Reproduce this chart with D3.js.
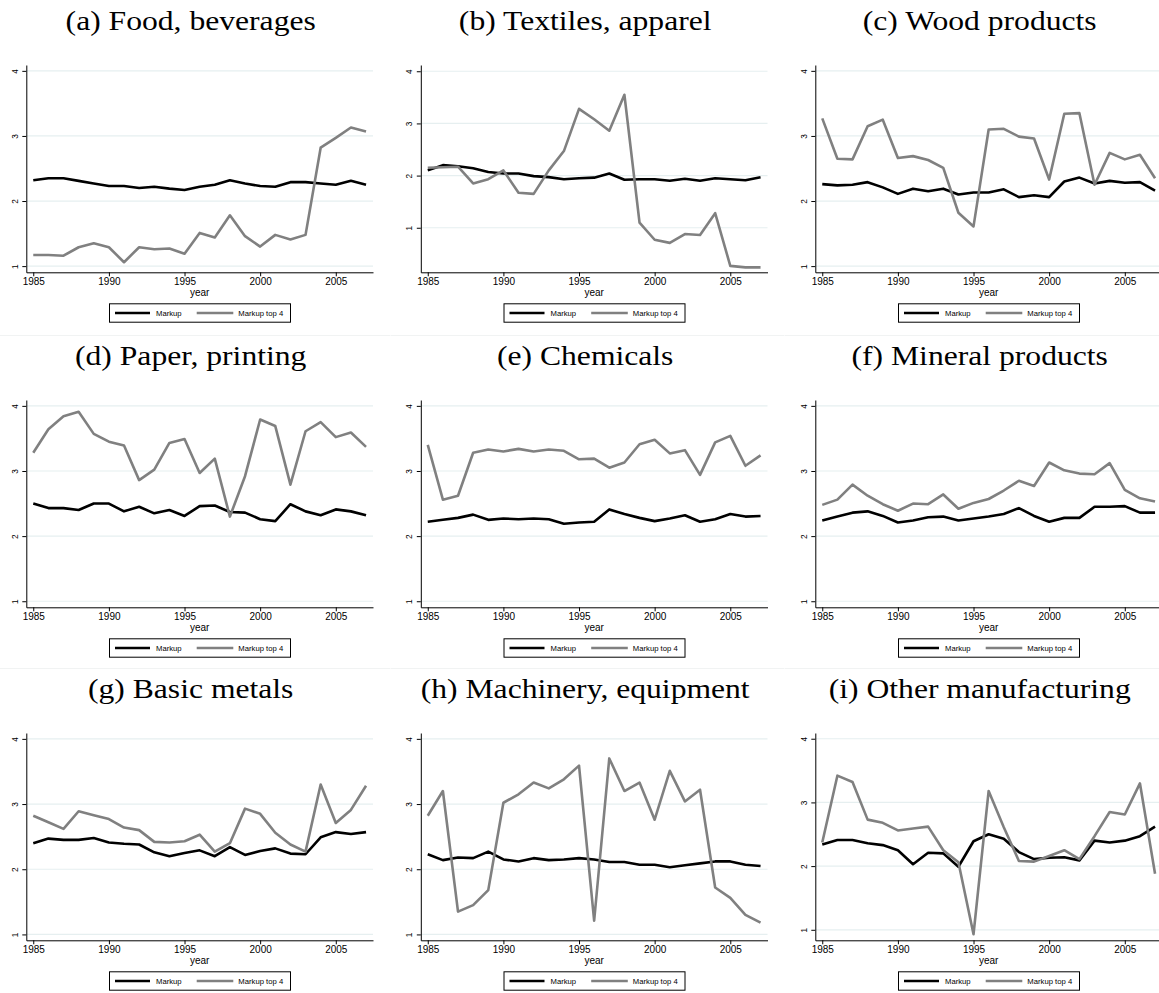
<!DOCTYPE html>
<html>
<head>
<meta charset="utf-8">
<script src="https://cdn.jsdelivr.net/npm/d3@7"></script>
<style>
  body { margin: 0; background: #fff; }
  svg { display: block; }
</style>
</head>
<body>
<svg id="chart" width="1159" height="993"></svg>
<script>
// ---- data -------------------------------------------------------------
const years = [1985, 1986, 1987, 1988, 1989, 1990, 1991, 1992, 1993, 1994, 1995, 1996,
               1997, 1998, 1999, 2000, 2001, 2002, 2003, 2004, 2005, 2006, 2007];

const xTicks = [1985, 1990, 1995, 2000, 2005];
const yTicks = [1, 2, 3, 4];
const seriesNames = ["Markup", "Markup top 4"];

const markupFood = [2.32, 2.35, 2.35, 2.31, 2.27, 2.23, 2.23, 2.20, 2.22, 2.19, 2.17, 2.22,
                    2.25, 2.32, 2.27, 2.23, 2.22, 2.29, 2.29, 2.27, 2.25, 2.31, 2.25];
const top4Food   = [1.17, 1.17, 1.16, 1.29, 1.35, 1.29, 1.06, 1.29, 1.26, 1.27, 1.19, 1.51,
                    1.44, 1.78, 1.46, 1.30, 1.48, 1.41, 1.48, 2.82, 2.97, 3.13, 3.07];

const markupTextiles = [2.10, 2.20, 2.18, 2.14, 2.07, 2.04, 2.04, 1.99, 1.97, 1.93, 1.95, 1.96,
                        2.04, 1.92, 1.93, 1.93, 1.90, 1.94, 1.90, 1.95, 1.93, 1.91, 1.97];
const top4Textiles   = [2.15, 2.16, 2.17, 1.85, 1.93, 2.10, 1.67, 1.65, 2.10, 2.47, 3.28, 3.08,
                        2.86, 3.55, 1.10, 0.77, 0.71, 0.88, 0.86, 1.28, 0.27, 0.24, 0.24];

const markupWood = [2.26, 2.24, 2.25, 2.29, 2.21, 2.11, 2.19, 2.15, 2.19, 2.10, 2.13, 2.13,
                    2.18, 2.06, 2.09, 2.06, 2.30, 2.36, 2.27, 2.31, 2.28, 2.29, 2.16];
const top4Wood   = [3.27, 2.65, 2.64, 3.15, 3.25, 2.66, 2.69, 2.63, 2.51, 1.82, 1.61, 3.10,
                    3.11, 2.99, 2.96, 2.33, 3.34, 3.35, 2.25, 2.74, 2.64, 2.71, 2.35];

const markupPaper = [2.50, 2.43, 2.43, 2.40, 2.50, 2.50, 2.38, 2.45, 2.35, 2.40, 2.31, 2.46,
                     2.47, 2.37, 2.36, 2.26, 2.23, 2.49, 2.38, 2.32, 2.41, 2.38, 2.32];
const top4Paper   = [3.28, 3.64, 3.84, 3.91, 3.57, 3.45, 3.39, 2.86, 3.02, 3.43, 3.49, 2.97,
                     3.19, 2.30, 2.92, 3.79, 3.69, 2.79, 3.61, 3.75, 3.52, 3.59, 3.37];

const markupChemicals = [2.22, 2.25, 2.28, 2.33, 2.25, 2.27, 2.26, 2.27, 2.26, 2.19, 2.21, 2.22,
                         2.41, 2.34, 2.28, 2.23, 2.27, 2.32, 2.22, 2.26, 2.34, 2.30, 2.31];
const top4Chemicals   = [3.40, 2.56, 2.62, 3.28, 3.33, 3.30, 3.34, 3.30, 3.33, 3.31, 3.18, 3.19,
                         3.05, 3.13, 3.41, 3.48, 3.27, 3.32, 2.94, 3.44, 3.54, 3.08, 3.24];

const markupMineral = [2.24, 2.30, 2.36, 2.38, 2.31, 2.21, 2.24, 2.29, 2.30, 2.24, 2.27, 2.30,
                       2.34, 2.43, 2.31, 2.22, 2.28, 2.28, 2.45, 2.45, 2.46, 2.36, 2.36];
const top4Mineral   = [2.48, 2.56, 2.79, 2.62, 2.49, 2.39, 2.50, 2.49, 2.64, 2.42, 2.51, 2.57,
                       2.70, 2.85, 2.77, 3.13, 3.01, 2.96, 2.95, 3.12, 2.71, 2.58, 2.53];

const markupMetals = [2.40, 2.47, 2.45, 2.45, 2.48, 2.41, 2.39, 2.38, 2.26, 2.20, 2.25, 2.29,
                      2.20, 2.34, 2.22, 2.28, 2.32, 2.24, 2.23, 2.49, 2.57, 2.54, 2.57];
const top4Metals   = [2.82, 2.72, 2.62, 2.89, 2.83, 2.77, 2.64, 2.60, 2.42, 2.41, 2.43, 2.53,
                      2.27, 2.40, 2.93, 2.85, 2.56, 2.38, 2.27, 3.30, 2.71, 2.91, 3.28];

const markupMachinery = [2.23, 2.14, 2.18, 2.17, 2.27, 2.15, 2.12, 2.17, 2.14, 2.15, 2.17, 2.15,
                         2.11, 2.11, 2.07, 2.07, 2.03, 2.06, 2.09, 2.12, 2.12, 2.07, 2.05];
const top4Machinery   = [2.82, 3.20, 1.35, 1.45, 1.68, 3.02, 3.15, 3.33, 3.24, 3.38, 3.59, 1.21,
                         3.70, 3.20, 3.33, 2.76, 3.51, 3.04, 3.22, 1.72, 1.56, 1.30, 1.18];

const markupOther = [2.34, 2.41, 2.41, 2.36, 2.33, 2.25, 2.03, 2.21, 2.20, 1.99, 2.39, 2.50,
                     2.43, 2.22, 2.11, 2.13, 2.14, 2.09, 2.40, 2.37, 2.40, 2.47, 2.62];
const top4Other   = [2.37, 3.42, 3.32, 2.73, 2.68, 2.56, 2.59, 2.62, 2.25, 2.06, 0.93, 3.18,
                     2.61, 2.08, 2.07, 2.16, 2.25, 2.11, 2.47, 2.85, 2.81, 3.30, 1.88];

const panelTitles = ["(a) Food, beverages", "(b) Textiles, apparel", "(c) Wood products",
                     "(d) Paper, printing", "(e) Chemicals", "(f) Mineral products",
                     "(g) Basic metals", "(h) Machinery, equipment", "(i) Other manufacturing"];

// y-axis extent of each panel
const yLow  = [0.905, 0.146, 0.905, 0.907, 0.907, 0.907, 0.91, 0.91, 0.835];
const yHigh = [4.09, 4.12, 4.09, 4.09, 4.09, 4.09, 4.09, 4.09, 4.09];

const panels = [
  [markupFood, top4Food], [markupTextiles, top4Textiles], [markupWood, top4Wood],
  [markupPaper, top4Paper], [markupChemicals, top4Chemicals], [markupMineral, top4Mineral],
  [markupMetals, top4Metals], [markupMachinery, top4Machinery], [markupOther, top4Other]
].map((s, i) => ({ title: panelTitles[i], markup: s[0], top4: s[1], yLow: yLow[i], yHigh: yHigh[i] }));

// ---- layout -----------------------------------------------------------
const colX = [0, 394.5, 789];
const rowY = [0, 335, 668];
const plot = { left: 26.3, right: 373, top: 65, bottom: 272.3 };
const colors = { markup: "#000000", top4: "#808080", grid: "#e6eff0", axis: "#000000" };
const lineW = 2.6;
const sansFont = "'Liberation Sans', Arial, Helvetica, sans-serif";
const serifFont = "'Liberation Serif', 'Times New Roman', serif";

const svg = d3.select("#chart");

// faint edges of the stacked graph regions
[1, 2].forEach(r => {
  colX.forEach(cx => {
    svg.append("line")
      .attr("x1", cx - 4).attr("x2", cx + 390)
      .attr("y1", rowY[r] + 0.5).attr("y2", rowY[r] + 0.5)
      .attr("stroke", "#f1f3f3").attr("stroke-width", 1);
  });
});

panels.forEach((p, i) => {
  const g = svg.append("g")
    .attr("transform", `translate(${colX[i % 3]},${rowY[Math.floor(i / 3)]})`);

  const x = d3.scaleLinear().domain([1984.54, 2007.46]).range([plot.left, plot.right]);
  const y = d3.scaleLinear().domain([p.yLow, p.yHigh]).range([plot.bottom, plot.top]);

  // title
  g.append("text")
    .attr("transform", "translate(190.7,29.5) scale(1.15,1)")
    .attr("text-anchor", "middle")
    .attr("font-family", serifFont)
    .attr("font-size", 27.5)
    .attr("fill", "#000")
    .text(p.title);

  // horizontal grid
  g.append("g").selectAll("line").data(yTicks).join("line")
    .attr("x1", plot.left).attr("x2", plot.right)
    .attr("y1", d => y(d)).attr("y2", d => y(d))
    .attr("stroke", colors.grid).attr("stroke-width", 1.2);

  // y axis
  const yAxis = g.append("g")
    .attr("transform", `translate(${plot.left},0)`)
    .call(d3.axisLeft(y).tickValues(yTicks).tickSize(4).tickSizeOuter(0).tickFormat(d3.format("d")));
  yAxis.selectAll("text")
    .attr("x", 0).attr("y", 0).attr("dy", null)
    .attr("text-anchor", "middle")
    .attr("transform", "translate(-8.7,0) rotate(-90)")
    .attr("font-family", sansFont).attr("font-size", 8.3).attr("fill", "#000");

  // x axis
  const xAxis = g.append("g")
    .attr("transform", `translate(0,${plot.bottom})`)
    .call(d3.axisBottom(x).tickValues(xTicks).tickSize(4).tickSizeOuter(0).tickPadding(2)
      .tickFormat(d3.format("d")));
  xAxis.selectAll("text")
    .attr("font-family", sansFont).attr("font-size", 10).attr("fill", "#000");

  [yAxis, xAxis].forEach(a => {
    a.select(".domain").attr("stroke", colors.axis).attr("stroke-width", 1);
    a.selectAll(".tick line").attr("stroke", colors.axis).attr("stroke-width", 1);
  });

  g.append("text")
    .attr("x", (plot.left + plot.right) / 2).attr("y", 295.5)
    .attr("text-anchor", "middle")
    .attr("font-family", sansFont).attr("font-size", 10).attr("fill", "#000")
    .text("year");

  // series
  const line = d3.line().x((d, k) => x(years[k])).y(d => y(d));
  g.append("path").datum(p.markup)
    .attr("d", line).attr("fill", "none")
    .attr("stroke", colors.markup).attr("stroke-width", lineW)
    .attr("stroke-linejoin", "round");
  g.append("path").datum(p.top4)
    .attr("d", line).attr("fill", "none")
    .attr("stroke", colors.top4).attr("stroke-width", lineW)
    .attr("stroke-linejoin", "round");

  // legend
  const lg = g.append("g").attr("transform", "translate(109,303.3)");
  lg.append("rect")
    .attr("x", 0.5).attr("y", 0.5).attr("width", 181).attr("height", 18.4)
    .attr("fill", "#fff").attr("stroke", "#000").attr("stroke-width", 1);
  const items = [
    { name: seriesNames[0], color: colors.markup, x0: 6, x1: 41, tx: 47 },
    { name: seriesNames[1], color: colors.top4, x0: 87.7, x1: 124.3, tx: 129.3 }
  ];
  items.forEach(it => {
    lg.append("line")
      .attr("x1", it.x0).attr("x2", it.x1).attr("y1", 9.7).attr("y2", 9.7)
      .attr("stroke", it.color).attr("stroke-width", lineW);
    lg.append("text")
      .attr("x", it.tx).attr("y", 12.4)
      .attr("font-family", sansFont).attr("font-size", 7.7).attr("fill", "#000")
      .text(it.name);
  });
});
</script>
</body>
</html>
